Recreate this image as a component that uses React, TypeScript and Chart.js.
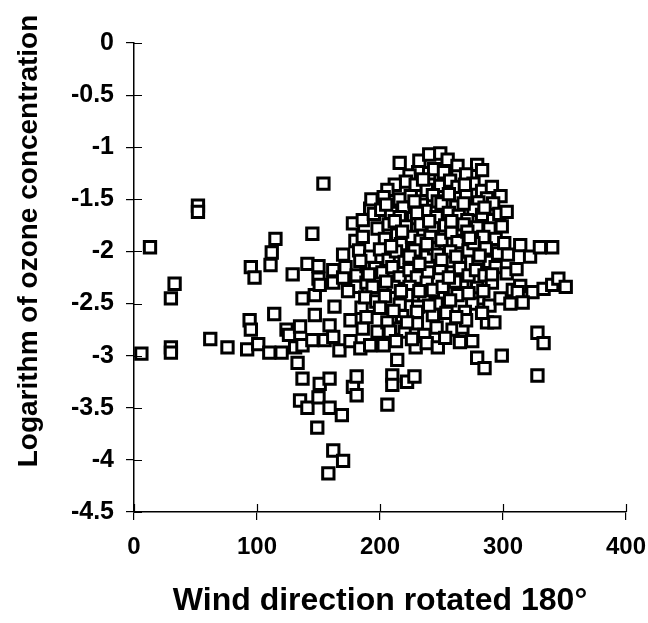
import { useEffect, useRef } from 'react';
import { Chart, registerables } from 'chart.js';

Chart.register(...registerables);

// Axis ranges and labels
const xTickValues = [0, 100, 200, 300, 400];
const yTickValues = [0, -0.5, -1, -1.5, -2, -2.5, -3, -3.5, -4, -4.5];
const xTitle = 'Wind direction rotated 180°';
const yTitle = 'Logarithm of ozone concentration';

// Observations: [wind direction rotated 180°, log ozone concentration]
const dirWest: [number, number][] = [
  [6, -2.98], [13, -1.96], [30, -2.45], [33, -2.31], [30, -2.92], [30, -2.97], [52, -1.56], [52, -1.62],
  [62, -2.84], [76, -2.92], [92, -2.94], [94, -2.66], [95, -2.75], [95, -2.15], [98, -2.25],
];

const dirSouth: [number, number][] = [
  [101, -2.89], [110, -2.97], [111, -2.13], [112, -2.01], [115, -1.88], [114, -2.6], [120, -2.97], [124, -2.75],
  [126, -2.8], [129, -2.22], [131, -2.92], [133, -3.07], [135, -2.72], [135, -3.43], [137, -2.45], [137, -2.9],
  [137, -3.22], [141, -2.12], [141, -3.5], [145, -1.83], [145, -2.85], [147, -2.42], [147, -2.61], [149, -3.69],
  [150, -2.14], [150, -2.26], [150, -3.4], [151, -2.32], [151, -3.27], [154, -1.35], [155, -2.85], [158, -4.13],
  [159, -2.71], [159, -3.22], [159, -3.5], [162, -2.18], [162, -2.3], [162, -2.82], [162, -3.91], [163, -2.53],
  [167, -2.95], [169, -3.57], [170, -2.03], [170, -2.25], [170, -4.01], [172, -2.15], [176, -2.66], [176, -2.86],
  [178, -1.73], [178, -3.3], [180, -1.9], [181, -2.23], [181, -2.34], [181, -3.2], [181, -3.38], [183, -1.99],
  [184, -2.93], [185, -2.54], [186, -1.7], [186, -1.86], [186, -2.74], [189, -2.14], [189, -2.3], [189, -2.63],
  [192, -1.59], [192, -2.05], [192, -2.9], [193, -1.5], [194, -2.34], [196, -2.16], [198, -1.78], [198, -2.77],
  [188, -2.44], [174, -2.38], [195, -1.64], [191, -2.22], [197, -2.48], [184, -2.09],
];

const dirCoreA: [number, number][] = [
  [216, -1.15], [232, -1.13], [240, -1.07], [249, -1.06], [231, -1.24], [240, -1.25], [224, -1.27], [221, -1.33],
  [229, -1.36], [212, -1.36], [238, -1.41], [249, -1.37], [206, -1.41], [216, -1.5], [203, -1.48], [225, -1.47],
  [243, -1.46], [234, -1.55], [201, -1.6], [209, -1.63], [219, -1.58], [237, -1.61], [216, -1.67], [227, -1.68],
  [246, -1.67], [207, -1.74], [221, -1.76], [233, -1.74], [243, -1.78], [204, -1.88], [214, -1.84], [217, -1.93],
  [226, -1.86], [233, -1.9], [241, -1.86], [200, -1.98], [207, -2.08], [213, -2.0], [220, -2.1], [228, -1.99],
  [238, -2.05], [244, -1.97], [202, -2.2], [210, -2.15], [216, -2.25], [224, -2.18], [230, -2.25], [239, -2.2],
  [249, -2.16], [211, -2.34], [224, -2.34], [238, -2.3], [204, -2.43], [222, -2.42], [236, -2.44], [200, -2.54],
  [216, -2.51], [231, -2.53], [246, -2.5], [230, -2.58], [243, -2.61], [206, -2.68], [216, -2.74], [230, -2.69],
  [246, -2.73], [208, -2.77], [220, -2.77], [236, -2.8], [203, -2.9], [229, -2.92], [238, -2.88], [247, -2.92],
  [214, -3.04], [210, -3.19], [210, -3.28], [222, -3.25], [228, -3.2], [206, -3.47],
  [244, -1.21], [228, -1.52], [212, -1.71], [238, -1.93], [224, -2.05], [243, -2.37], [218, -2.62], [226, -2.84],
  [235, -1.31], [247, -1.52], [205, -1.55], [230, -1.63], [240, -1.71], [218, -1.81], [209, -1.95], [247, -2.03],
  [232, -2.12], [205, -2.29], [217, -2.38], [232, -2.38], [211, -2.57], [240, -2.52], [222, -2.68], [213, -2.86],
];

const dirCoreB: [number, number][] = [
  [255, -1.12], [263, -1.18], [279, -1.17], [252, -1.24], [263, -1.28], [270, -1.26], [283, -1.22], [257, -1.32],
  [276, -1.35], [263, -1.38], [283, -1.42], [291, -1.38], [270, -1.47], [287, -1.49], [298, -1.47], [250, -1.54],
  [262, -1.57], [280, -1.53], [292, -1.54], [256, -1.63], [264, -1.66], [276, -1.6], [271, -1.7], [283, -1.65],
  [292, -1.7], [297, -1.64], [253, -1.75], [262, -1.79], [268, -1.74], [279, -1.77], [289, -1.78], [299, -1.76],
  [250, -1.89], [258, -1.82], [263, -1.91], [271, -1.81], [284, -1.86], [294, -1.88], [257, -2.0], [250, -2.08],
  [265, -2.11], [272, -1.99], [280, -2.11], [286, -1.97], [289, -2.1], [296, -2.02], [259, -2.2], [265, -2.16],
  [272, -2.23], [278, -2.18], [285, -2.23], [294, -2.15], [251, -2.34], [267, -2.34], [279, -2.35], [291, -2.3],
  [263, -2.42], [280, -2.45], [257, -2.47], [275, -2.5], [289, -2.52], [298, -2.45], [254, -2.59], [269, -2.58],
  [287, -2.68], [293, -2.68], [259, -2.75], [267, -2.73], [253, -2.83], [265, -2.87], [275, -2.86], [279, -3.02],
  [285, -3.12], [299, -3.0],
  [268, -1.54], [258, -1.71], [276, -1.92], [261, -2.29], [284, -2.38], [270, -2.66],
  [269, -1.36], [256, -1.45], [285, -1.58], [273, -1.87], [262, -2.05], [281, -2.04], [291, -2.22], [256, -2.25],
  [272, -2.4], [283, -2.59], [262, -2.63],
];

const dirEast: [number, number][] = [
  [303, -1.62], [301, -1.92], [304, -2.03], [303, -2.21], [311, -2.17], [308, -2.37], [314, -1.94], [314, -2.33],
  [312, -2.39], [322, -2.05], [324, -2.39], [316, -2.49], [306, -2.5], [330, -1.96], [340, -1.96], [333, -2.36],
  [340, -2.32], [345, -2.26], [351, -2.34], [328, -2.78], [333, -2.88], [328, -3.19],
];

const FONT = "'Liberation Sans', Arial, Helvetica, sans-serif";

// Tick marks that cross the axis line (Chart.js draws only the outer half)
const innerTicks = {
  id: 'innerTicks',
  afterDatasetsDraw(chart: Chart) {
    const { ctx, chartArea, scales } = chart;
    const len = 8;
    ctx.save();
    ctx.strokeStyle = '#000';
    ctx.lineWidth = 1.2;
    ctx.beginPath();
    for (const v of xTickValues) {
      const px = Math.round(scales.x.getPixelForValue(v)) + 0.5;
      ctx.moveTo(px, chartArea.bottom);
      ctx.lineTo(px, chartArea.bottom - len);
    }
    for (const v of yTickValues) {
      const py = Math.round(scales.y.getPixelForValue(v)) + 0.5;
      ctx.moveTo(chartArea.left, py);
      ctx.lineTo(chartArea.left + len, py);
    }
    ctx.stroke();
    ctx.restore();
  },
};

// Vertical axis title, placed freely beside the axis
const yAxisTitle = {
  id: 'yAxisTitle',
  afterDraw(chart: Chart) {
    const { ctx } = chart;
    ctx.save();
    ctx.translate(29, 241);
    ctx.rotate(-Math.PI / 2);
    ctx.font = `bold 28px ${FONT}`;
    ctx.fillStyle = '#000';
    ctx.textAlign = 'center';
    ctx.textBaseline = 'middle';
    ctx.fillText(yTitle, 0, 0);
    ctx.restore();
  },
};

export default function App() {
  const canvasRef = useRef<HTMLCanvasElement | null>(null);

  useEffect(() => {
    const canvas = canvasRef.current;
    if (!canvas) return;
    const points = [...dirWest, ...dirSouth, ...dirCoreA, ...dirCoreB, ...dirEast].map(([x, y]) => ({ x, y }));

    const chart = new Chart(canvas, {
      type: 'scatter',
      data: {
        datasets: [
          {
            data: points,
            pointStyle: 'rect',
            pointRadius: 8,
            pointHoverRadius: 8,
            borderColor: '#000',
            backgroundColor: '#fff',
            borderWidth: 3,
            clip: false,
          },
        ],
      },
      options: {
        responsive: false,
        animation: false,
        devicePixelRatio: 1,
        layout: { padding: { top: 43, right: 22, bottom: 0, left: 0 } },
        plugins: {
          legend: { display: false },
          tooltip: { enabled: false },
        },
        scales: {
          x: {
            type: 'linear',
            min: 0,
            max: 400,
            afterBuildTicks: (scale: any) => {
              scale.ticks = xTickValues.map((value) => ({ value }));
            },
            afterFit: (scale: any) => {
              scale.height = 111;
              scale.paddingLeft = 0;
              scale.paddingRight = 0;
            },
            ticks: {
              color: '#000',
              padding: 13,
              maxRotation: 0,
              font: { family: FONT, size: 24, weight: 'bold' },
              callback: (v: any) => String(v),
            },
            grid: { drawOnChartArea: false, drawTicks: true, tickLength: 8, color: '#000', lineWidth: 1.2 },
            border: { display: true, color: '#000', width: 1.5 },
            title: {
              display: true,
              text: xTitle,
              color: '#000',
              font: { family: FONT, size: 32, weight: 'bold' },
              padding: { top: 0, bottom: 3 },
            },
          },
          y: {
            type: 'linear',
            min: -4.5,
            max: 0,
            afterBuildTicks: (scale: any) => {
              scale.ticks = yTickValues.map((value) => ({ value }));
            },
            afterFit: (scale: any) => {
              scale.width = 134;
              scale.paddingTop = 0;
              scale.paddingBottom = 0;
            },
            ticks: {
              color: '#000',
              padding: 12,
              font: { family: FONT, size: 25, weight: 'bold' },
              callback: (v: any) => String(v),
            },
            grid: { drawOnChartArea: false, drawTicks: true, tickLength: 8, color: '#000', lineWidth: 1.2 },
            border: { display: true, color: '#000', width: 1.5 },
          },
        },
      },
      plugins: [innerTicks, yAxisTitle],
    });

    return () => chart.destroy();
  }, []);

  return (
    <div style={{ position: 'absolute', left: 0, top: 0, width: 648, height: 623, background: '#fff' }}>
      <canvas ref={canvasRef} width={648} height={623} />
    </div>
  );
}
